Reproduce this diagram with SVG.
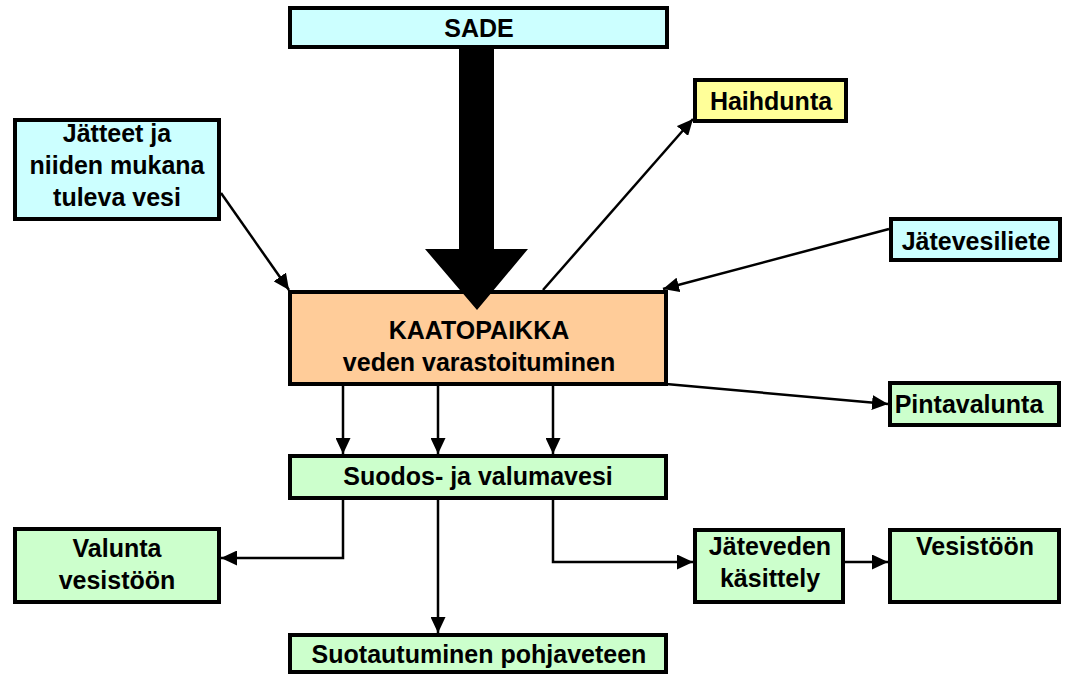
<svg xmlns="http://www.w3.org/2000/svg" width="1065" height="674" viewBox="0 0 1065 674">
<style>
.box{stroke:#000;stroke-width:4}
.cyan{fill:#CCFFFF}.yellow{fill:#FFFF99}.orange{fill:#FFCC99}.green{fill:#CCFFCC}
text{font-family:"Liberation Sans",Arial,sans-serif;font-weight:bold;font-size:25px;fill:#000;text-anchor:middle}
.conn{stroke:#000;stroke-width:2.5;fill:none;marker-end:url(#ah)}
</style>
<defs>
<marker id="ah" markerUnits="userSpaceOnUse" markerWidth="17" markerHeight="15" refX="16" refY="7.5" orient="auto" viewBox="0 0 17 15">
<path d="M0,0 L16,7.5 L0,15 z" fill="#000"/>
</marker>
</defs>
<rect width="1065" height="674" fill="#fff"/>
<g id="sade"><rect class="box cyan" x="290" y="8" width="377" height="39"/><text x="479" y="37">SADE</text></g>
<g id="jatteet"><rect class="box cyan" x="15" y="120" width="204" height="99"/><text x="117" y="142">Jätteet ja</text><text x="117" y="174">niiden mukana</text><text x="117" y="206">tuleva vesi</text></g>
<g id="haihdunta"><rect class="box yellow" x="695" y="80" width="151" height="41"/><text x="771" y="110">Haihdunta</text></g>
<g id="jatevesiliete"><rect class="box cyan" x="891" y="219" width="169" height="41"/><text x="976" y="250">Jätevesiliete</text></g>
<g id="kaatopaikka"><rect class="box orange" x="290" y="292" width="376" height="92"/><text x="479" y="339">KAATOPAIKKA</text><text x="479" y="371">veden varastoituminen</text></g>
<g id="pintavalunta"><rect class="box green" x="890" y="383" width="169" height="42"/><text x="969" y="413">Pintavalunta</text></g>
<g id="suodos"><rect class="box green" x="290" y="456" width="376" height="42"/><text x="478" y="485">Suodos- ja valumavesi</text></g>
<g id="valunta"><rect class="box green" x="15" y="529" width="204" height="73"/><text x="117" y="557">Valunta</text><text x="117" y="589">vesistöön</text></g>
<g id="jateveden"><rect class="box green" x="695" y="530" width="148" height="72"/><text x="770" y="555">Jäteveden</text><text x="770" y="587">käsittely</text></g>
<g id="vesistoon"><rect class="box green" x="890" y="530" width="169" height="72"/><text x="975" y="555">Vesistöön</text></g>
<g id="suotautuminen"><rect class="box green" x="290" y="635" width="376" height="37"/><text x="479" y="663">Suotautuminen pohjaveteen</text></g>
<g id="connectors">
<line class="conn" x1="221" y1="193" x2="289" y2="290"/>
<line class="conn" x1="543" y1="290" x2="693" y2="119"/>
<line class="conn" x1="889" y1="229" x2="663" y2="289"/>
<line class="conn" x1="666" y1="384" x2="888" y2="404"/>
<line class="conn" x1="343" y1="386" x2="343" y2="454"/>
<line class="conn" x1="438" y1="386" x2="438" y2="454"/>
<line class="conn" x1="553" y1="386" x2="553" y2="454"/>
<polyline class="conn" points="343,498 343,558 221,558"/>
<line class="conn" x1="438" y1="498" x2="438" y2="633"/>
<polyline class="conn" points="553,498 553,562 693,562"/>
<line class="conn" x1="845" y1="562" x2="888" y2="562"/>
<polygon points="459,49 494,49 494,249 528,249 477,310 425,249 459,249" fill="#000"/>
</g>
</svg>
